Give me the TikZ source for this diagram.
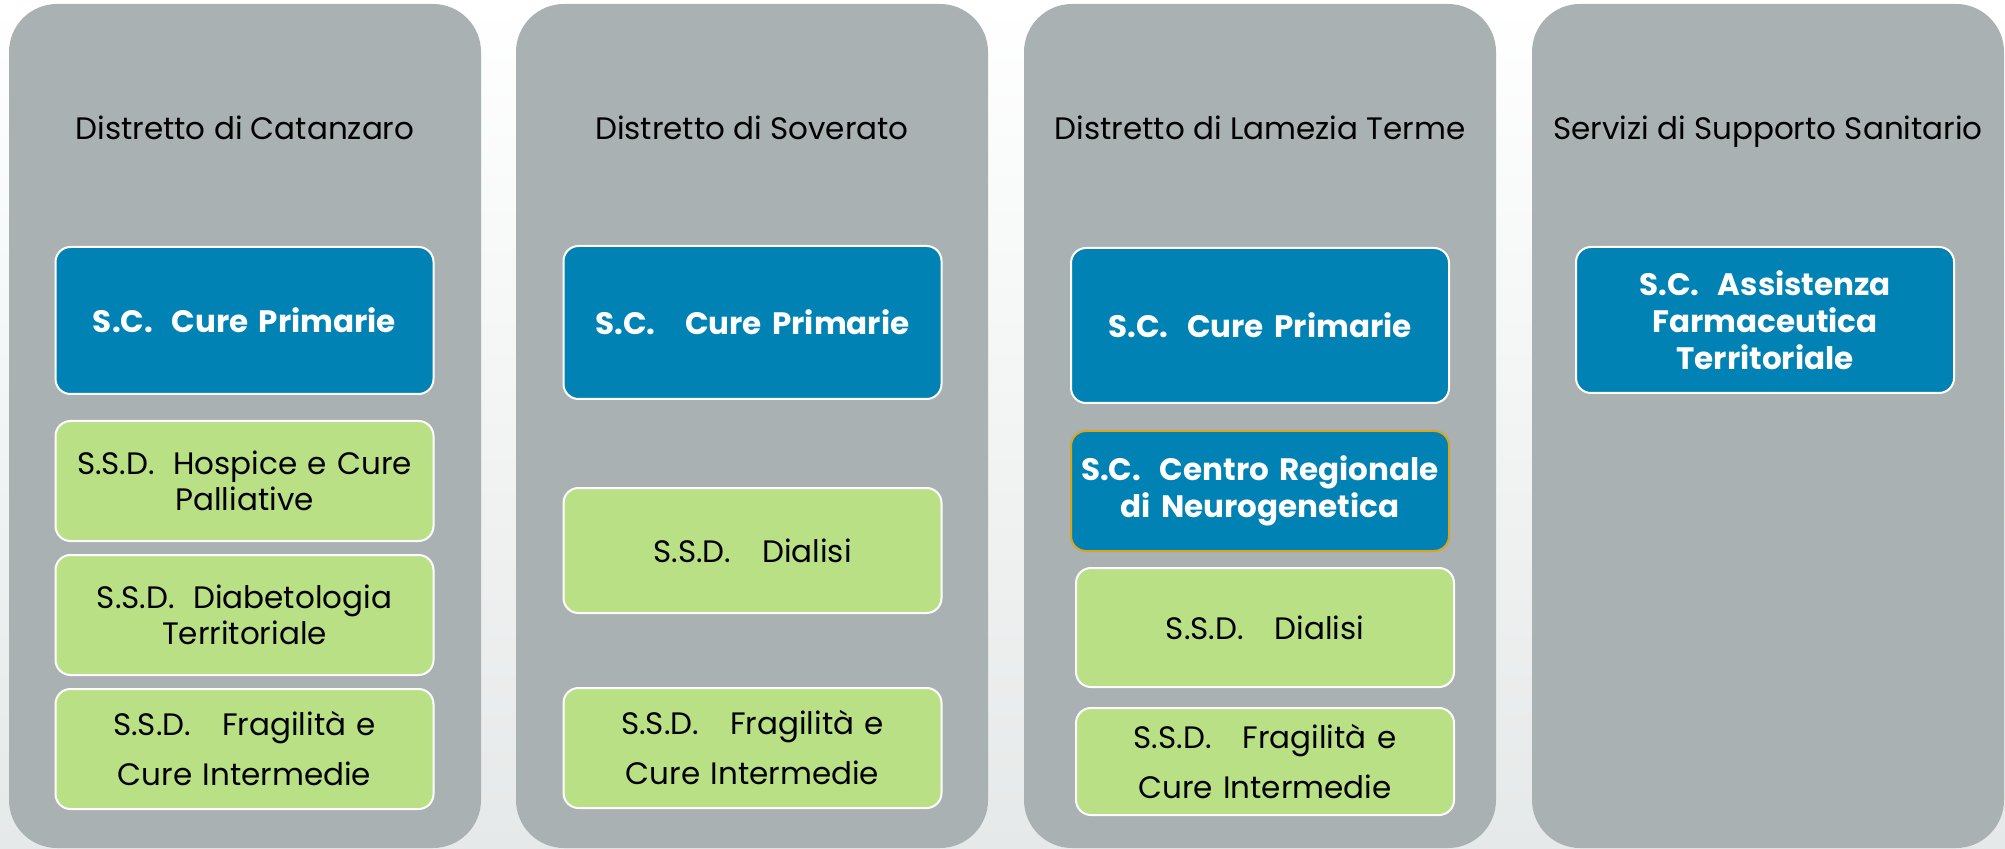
\documentclass[tikz,border=0pt]{standalone}
\usepackage{fontspec}
\setmainfont{Poppins}
\usetikzlibrary{%
  positioning,% wg. " of "
  shapes.misc%
}
\definecolor{panelgray}{HTML}{A9B1B2}
\definecolor{unitblue}{HTML}{0083B4}
\definecolor{subgreen}{HTML}{B9E085}
\definecolor{goldline}{HTML}{D9A41E}
\definecolor{bgbottom}{HTML}{E6E9E9}

\begin{document}
\begin{tikzpicture}[x=0.5pt,y=-0.5pt,
    panel/.style={fill=panelgray,rounded corners=24pt,minimum width=236pt,minimum height=422pt,inner sep=0pt},
    title/.style={anchor=base,font=\fontsize{15.5}{18}\selectfont},
    unit/.style={fill=unitblue,draw=white,line width=1pt,rounded corners=7.5pt,text width=185pt,inner xsep=2pt,inner ysep=0pt,outer sep=0pt,align=center,text=white,font=\fontsize{15.5}{18.5}\selectfont\bfseries},
    sub/.style={unit,fill=subgreen,text=black,font=\fontsize{15.5}{18}\selectfont}]

    %background
    \useasboundingbox (0,0) rectangle (2005,849);
    \shade[top color=white,bottom color=bgbottom] (0,0) rectangle (2005,849);

    %Catanzaro column
    \node[panel] (cz) at (245,426) {};
    \node[title] (cz_t) at (245,140) {Distretto di Catanzaro};
    \node[unit,minimum height=73.5pt] (cz_0) at (244.5,320.5) {S.C.\hspace{0.6em}Cure Primarie};
    \node[sub,minimum height=60pt] (cz_1) [below=13.5pt of cz_0] {S.S.D.\hspace{0.6em}Hospice e Cure\\Palliative};
    \node[sub,minimum height=60pt] (cz_2) [below=7pt of cz_1] {S.S.D.\hspace{0.6em}Diabetologia\\Territoriale};
    \node[sub,minimum height=60pt] (cz_3) [below=7pt of cz_2] {S.S.D.\hspace{1em}Fragilità e\\[7pt]Cure Intermedie};

    %Soverato column
    \node[panel] (sv) at (752,426) {};
    \node[title] (sv_t) at (752,140) {Distretto di Soverato};
    \node[unit,minimum height=76.5pt] (sv_0) at (752.5,322.5) {S.C.\hspace{0.95em}Cure Primarie};
    \node[sub,minimum height=62.5pt] (sv_1) [below=44.5pt of sv_0] {S.S.D.\hspace{1em}Dialisi};
    \node[sub,minimum height=60pt] (sv_2) [below=37.5pt of sv_1] {S.S.D.\hspace{1em}Fragilità e\\[7pt]Cure Intermedie};

    %Lamezia Terme column
    \node[panel] (lt) at (1260,426) {};
    \node[title] (lt_t) at (1260,140) {Distretto di Lamezia Terme};
    \node[unit,minimum height=77.5pt] (lt_0) at (1260,325.5) {S.C.\hspace{0.6em}Cure Primarie};
    \node[unit,draw=goldline,minimum height=60pt] (lt_1) [below=14pt of lt_0] {S.C.\hspace{0.6em}Centro Regionale\\di Neurogenetica};
    \node[sub,minimum height=59.5pt] (lt_2) [below=8.5pt of lt_1,xshift=2.5pt] {S.S.D.\hspace{1em}Dialisi};
    \node[sub,minimum height=53.5pt] (lt_3) [below=10.5pt of lt_2] {S.S.D.\hspace{1em}Fragilità e\\[7pt]Cure Intermedie};

    %Supporto Sanitario column
    \node[panel] (ss) at (1768,426) {};
    \node[title] (ss_t) at (1768,140) {Servizi di Supporto Sanitario};
    \node[unit,minimum height=73pt] (ss_0) at (1765,320) {S.C.\hspace{0.6em}Assistenza\\Farmaceutica\\Territoriale};

\end{tikzpicture}
\end{document}
